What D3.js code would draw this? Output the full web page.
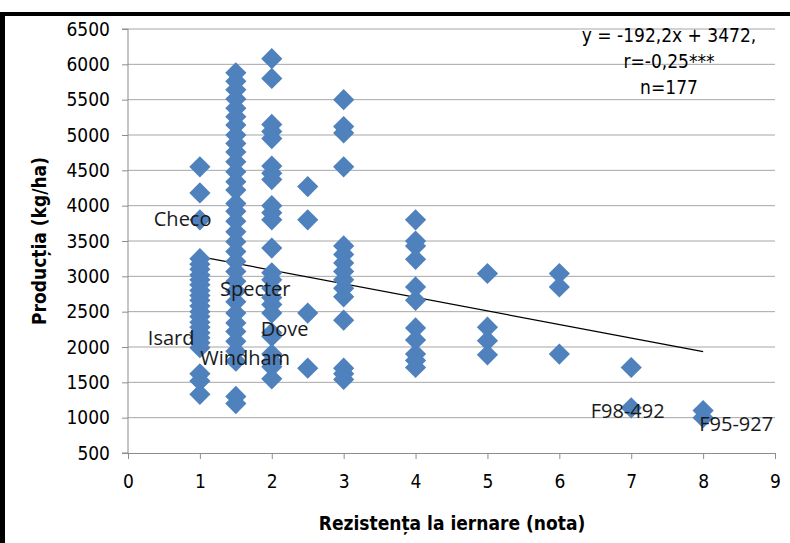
<!DOCTYPE html>
<html>
<head>
<meta charset="utf-8">
<script src="https://cdn.jsdelivr.net/npm/d3@7"></script>
<style>
  body { margin: 0; background: #fff; }
  svg { display: block; }
  .axis text { font-family: "Liberation Sans Narrow", "DejaVu Sans Condensed", sans-serif; font-size: 19px; fill: #000; }
  .axis path, .axis line { stroke: #8c8c8c; }
</style>
</head>
<body>
<script>
// winter hardiness score (x) and yields for each score (y)
const note = [1, 1.5, 2, 2.5, 3, 4, 5, 6, 7, 8];
const productii = [
    [4550, 4180, 3800, 3250, 3170, 3100, 3020, 2950, 2880, 2800, 2730, 2660, 2580, 2500, 2430, 2350, 2280, 2200, 2130, 2060, 1990, 1620, 1520, 1330],
    [5880, 5760, 5640, 5510, 5380, 5260, 5140, 5000, 4880, 4760, 4620, 4480, 4340, 4220, 4030, 3920, 3780, 3630, 3490, 3350, 3210, 3070, 2930, 2790, 2640, 2480, 2340, 2220, 2080, 1940, 1800, 1300, 1200],
    [6080, 5800, 5150, 5050, 4950, 4560, 4460, 4370, 4000, 3900, 3800, 3400, 3050, 2950, 2830, 2700, 2600, 2480, 2200, 2150, 1900, 1800, 1720, 1550],
    [4270, 3800, 2480, 1700],
    [5500, 5120, 5030, 4550, 3430, 3310, 3190, 3070, 2950, 2830, 2710, 2380, 1700, 1620, 1540],
    [3800, 3500, 3430, 3240, 2850, 2660, 2270, 2100, 1900, 1810, 1710],
    [3040, 2280, 2090, 1890],
    [3040, 2850, 1900],
    [1710, 1140],
    [1100, 1000]
];

// regression y = -192,2x + 3472
const panta = -192.2, intercept = 3472;
const ecuatie = ["y = -192,2x + 3472,", "r=-0,25***", "n=177"];

// cultivar labels, anchored in data units
const soiuri = ["Checo", "Specter", "Isard", "Dove", "Windham", "F98-492", "F95-927"];
const soiuriX = [0.76, 1.77, 0.6, 2.18, 1.63, 6.95, 8.46];
const soiuriY = [3815, 2820, 2130, 2255, 1845, 1095, 910];

const xTicks = d3.range(0, 10);
const yTicks = d3.range(500, 7000, 500);

const data = [];
note.forEach((n, i) => productii[i].forEach(v => data.push({x: n, y: v})));

const svg = d3.select("body").append("svg")
    .attr("width", 790)
    .attr("height", 543);

// frame (black border of the original figure)
svg.append("rect").attr("x", 0).attr("y", 12).attr("width", 5).attr("height", 531).attr("fill", "#000");
svg.append("rect").attr("x", 0).attr("y", 12).attr("width", 790).attr("height", 4).attr("fill", "#000");

const margin = {top: 29, right: 15, bottom: 90, left: 128},
      width = 775 - margin.left,
      height = 453 - margin.top;

const g = svg.append("g").attr("transform", `translate(${margin.left},${margin.top})`);

const x = d3.scaleLinear().domain([0, 9]).range([0, width]);
const y = d3.scaleLinear().domain([500, 6500]).range([height, 0]);

// horizontal gridlines
g.append("g")
    .selectAll("line")
    .data(yTicks.slice(1))
    .join("line")
    .attr("x1", 0).attr("x2", width)
    .attr("y1", d => y(d)).attr("y2", d => y(d))
    .attr("stroke", "#a6a6a6");

g.append("g")
    .attr("class", "axis")
    .call(d3.axisLeft(y).tickValues(yTicks).tickSize(6).tickPadding(12).tickFormat(d3.format("d")))
    .call(a => a.select(".domain").attr("d", `M-6,${height}H0V0H-6`));

g.append("g")
    .attr("class", "axis")
    .attr("transform", `translate(0,${height})`)
    .call(d3.axisBottom(x).tickValues(xTicks).tickSize(6).tickPadding(16).tickFormat(d3.format("d")));

// regression line from x=1 to x=8
g.append("line")
    .attr("x1", x(1)).attr("y1", y(panta * 1 + intercept))
    .attr("x2", x(8)).attr("y2", y(panta * 8 + intercept))
    .attr("stroke", "#000")
    .attr("stroke-width", 1.2);

// points
const diamond = d3.symbol(d3.symbolSquare, 225);
g.append("g")
    .selectAll("path")
    .data(data)
    .join("path")
    .attr("d", diamond)
    .attr("transform", d => `translate(${x(d.x)},${y(d.y)}) rotate(45)`)
    .attr("fill", "#4F81BD");

// cultivar labels
g.append("g")
    .selectAll("text")
    .data(soiuri)
    .join("text")
    .attr("x", (d, i) => x(soiuriX[i]))
    .attr("y", (d, i) => y(soiuriY[i]))
    .attr("dy", "0.35em")
    .attr("text-anchor", "middle")
    .style("font-family", "'Open Sans', sans-serif")
    .style("font-size", "20px")
    .attr("fill", "#1a1a1a")
    .text(d => d);

// equation box text
g.append("g")
    .selectAll("text")
    .data(ecuatie)
    .join("text")
    .attr("x", 541)
    .attr("y", (d, i) => 13 + i * 26)
    .attr("text-anchor", "middle")
    .style("font-family", "'Liberation Sans Narrow', 'DejaVu Sans Condensed', sans-serif")
    .style("font-size", "19px")
    .attr("fill", "#000")
    .text(d => d);

// axis titles
svg.append("text")
    .attr("x", 452).attr("y", 530)
    .attr("text-anchor", "middle")
    .style("font-family", "'Liberation Sans Narrow', 'DejaVu Sans Condensed', sans-serif")
    .style("font-size", "19px")
    .style("font-weight", "bold")
    .text("Rezistența la iernare (nota)");

svg.append("text")
    .attr("transform", `translate(46,${margin.top + height / 2}) rotate(-90)`)
    .attr("text-anchor", "middle")
    .style("font-family", "'Liberation Sans Narrow', 'DejaVu Sans Condensed', sans-serif")
    .style("font-size", "19px")
    .style("font-weight", "bold")
    .text("Producția (kg/ha)");
</script>
</body>
</html>
